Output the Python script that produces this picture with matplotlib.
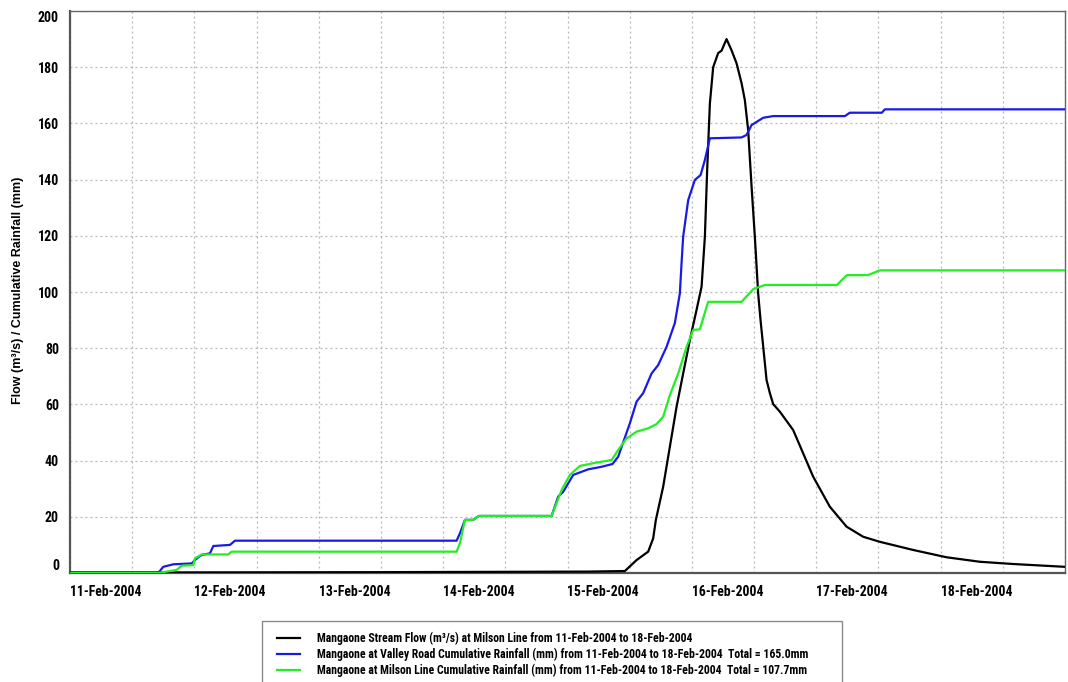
import numpy as np
import matplotlib
matplotlib.use("Agg")
import matplotlib.pyplot as plt
import matplotlib.dates as mdates
from matplotlib import font_manager
from matplotlib.font_manager import FontProperties
from matplotlib.lines import Line2D
from matplotlib.patches import Rectangle
from datetime import datetime

# ---------------- data (hours since 11-Feb-2004 00:00) ----------------
flow_hours = [0, 17.0, 60, 100, 107.07, 109.33, 111.57, 112.53, 113.05, 114.46, 115.76,
              117.05, 118.32, 119.61, 120.9, 121.87, 122.51, 122.95, 123.47, 124.11,
              125.07, 125.73, 126.69, 127.66, 128.62, 129.59, 130.22, 130.86, 131.52,
              132.15, 132.79, 133.25, 134.41, 135.05, 135.69, 136.98, 139.54, 141.47,
              143.4, 146.62, 149.84, 153.05, 156.27, 162.69, 169.13, 175.56, 181.98, 191.96]
flow_values = [0.2, 0.2, 0.3, 0.5, 0.7, 4.6, 7.6, 12.3, 18.9, 30.7, 45.0,
               59.2, 71.0, 82.9, 93.6, 101.9, 119.7, 143.4, 167.0, 180.0,
               185.0, 185.9, 190.0, 186.0, 181.4, 174.3, 168.3, 157.7, 137.5,
               119.7, 99.5, 90.0, 68.7, 64.0, 60.1, 57.4, 50.9, 42.6,
               34.3, 23.6, 16.5, 12.9, 11.1, 8.2, 5.6, 4.0, 3.2, 2.2]

valley_hours = [0, 17.03, 18.0, 19.93, 23.48, 24.12, 24.75, 25.41, 27.01, 27.65, 30.87,
                31.83, 74.6, 75.24, 76.21, 77.81, 78.46, 78.96, 92.93, 94.21, 95.17,
                97.1, 100.0, 102.58, 104.7, 105.78, 108.04, 109.33, 110.6, 112.22,
                113.5, 115.12, 116.72, 117.68, 118.0, 118.32, 119.29, 120.58, 121.68,
                122.51, 123.47, 129.59, 130.55, 131.52, 133.76, 135.69, 149.52, 150.48,
                156.66, 157.23, 191.96]
valley_values = [0, 0, 2.2, 3.1, 3.4, 4.6, 5.6, 6.4, 7.0, 9.6, 10.0,
                 11.5, 11.5, 14.1, 18.9, 18.9, 19.8, 20.3, 20.3, 27.2, 28.9,
                 34.9, 36.9, 37.8, 38.8, 41.4, 53.3, 61.0, 64.0, 71.0,
                 74.0, 80.5, 89.0, 99.5, 110.0, 119.7, 132.7, 139.9, 141.6,
                 147.0, 154.7, 155.0, 155.9, 159.4, 162.0, 162.6, 162.6, 163.8,
                 163.8, 165.0, 165.0]

milson_hours = [0, 17.03, 20.58, 21.55, 23.79, 24.12, 25.41, 30.54, 31.2, 74.6, 75.24,
                76.21, 77.81, 78.46, 78.96, 92.93, 94.86, 96.46, 98.39, 101.61, 104.51,
                105.78, 107.4, 109.33, 111.57, 113.19, 114.46, 115.76, 117.36, 118.98,
                120.25, 121.54, 123.14, 129.59, 131.83, 134.08, 147.98, 149.9, 153.96,
                156.27, 191.96]
milson_values = [0, 0, 1.1, 2.6, 2.8, 5.2, 6.6, 6.6, 7.6, 7.6, 10.6,
                 18.9, 18.9, 19.8, 20.3, 20.3, 29.5, 34.9, 38.1, 39.3, 40.2,
                 43.8, 47.9, 50.3, 51.5, 53.0, 55.6, 63.3, 71.0, 80.5,
                 86.5, 86.7, 96.5, 96.5, 101.0, 102.5, 102.5, 106.0, 106.0,
                 107.7, 107.7]

x_tick_labels = ["11-Feb-2004", "12-Feb-2004", "13-Feb-2004", "14-Feb-2004",
                 "15-Feb-2004", "16-Feb-2004", "17-Feb-2004", "18-Feb-2004"]
y_ticks = [0, 20, 40, 60, 80, 100, 120, 140, 160, 180, 200]

legend_labels = [
    "Mangaone Stream Flow (m\u00b3/s) at Milson Line from 11-Feb-2004 to 18-Feb-2004",
    "Mangaone at Valley Road Cumulative Rainfall (mm) from 11-Feb-2004 to 18-Feb-2004  Total = 165.0mm",
    "Mangaone at Milson Line Cumulative Rainfall (mm) from 11-Feb-2004 to 18-Feb-2004  Total = 107.7mm",
]

# ---------------- fonts ----------------
def find_narrow_bold():
    entries = font_manager.fontManager.ttflist
    prefs = ["Liberation Sans Narrow", "Arial Narrow", "Roboto Condensed",
             "Open Sans Condensed", "DejaVu Sans Condensed"]
    def is_bold(e):
        return e.weight in ("bold", 700, "700") or "Bold" in e.fname
    for p in prefs:
        for e in entries:
            if e.name == p and is_bold(e) and "Italic" not in e.fname and "Oblique" not in e.fname:
                return e.fname
    for e in entries:
        cond = ("Narrow" in e.fname or "Condensed" in e.fname
                or e.stretch in ("condensed", "semi-condensed"))
        if cond and is_bold(e) and "Italic" not in e.fname and "Oblique" not in e.fname \
                and "Extra" not in e.fname and "Ultra" not in e.fname:
            return e.fname
    return None

narrow_file = find_narrow_bold()
if narrow_file:
    base_fp = FontProperties(fname=narrow_file)
else:
    base_fp = FontProperties(family=["Liberation Sans", "DejaVu Sans"], weight="bold")

plt.rcParams["font.family"] = ["Liberation Sans", "DejaVu Sans"]

t0 = mdates.date2num(datetime(2004, 2, 11))
def to_num(h):
    return t0 + np.asarray(h, dtype=float) / 24.0

fig = plt.figure(figsize=(10.68, 6.82), dpi=100)
renderer = fig.canvas.get_renderer()

def fit_size(text, target_px, ref_size=10.0, max_size=None):
    fp = base_fp.copy()
    fp.set_size(ref_size)
    t = fig.text(0, 0, text, fontproperties=fp)
    w = t.get_window_extent(renderer).width
    t.remove()
    s = ref_size * target_px / w
    if max_size:
        s = min(s, max_size)
    return s

def fp_at(size):
    fp = base_fp.copy()
    fp.set_size(size)
    return fp

xtick_fp = fp_at(fit_size("11-Feb-2004", 72, max_size=11.5))
ytick_fp = fp_at(fit_size("200", 21, max_size=11.5))
legend_fp = fp_at(fit_size(legend_labels[1], 490, max_size=9.5))

ax = fig.add_axes([70 / 1068, 1 - 573 / 682, 995 / 1068, 562 / 682])

c_flow, c_valley, c_milson = "#000000", "#1a1ae6", "#22ee22"
ax.plot(to_num(flow_hours), flow_values, color=c_flow, lw=1.6, zorder=3)
ax.plot(to_num(valley_hours), valley_values, color=c_valley, lw=1.6, zorder=4)
ax.plot(to_num(milson_hours), milson_values, color=c_milson, lw=1.6, zorder=5)

ax.set_xlim(to_num(0), to_num(192))
ax.set_ylim(0, 200)

tick_pos = [mdates.date2num(datetime.strptime(s, "%d-%b-%Y")) for s in x_tick_labels]
ax.set_xticks(tick_pos)
ax.set_xticklabels(x_tick_labels, ha="left", fontproperties=xtick_fp)
ax.xaxis.set_minor_locator(mdates.HourLocator(byhour=[0, 12]))
ax.set_yticks(y_ticks)
ax.set_yticklabels([str(v) for v in y_ticks], fontproperties=ytick_fp)
ax.tick_params(axis="both", which="both", length=0)
ax.tick_params(axis="x", pad=9)
ax.tick_params(axis="y", pad=8)
ylabels = ax.get_yticklabels()
ylabels[0].set_verticalalignment("bottom")
ylabels[-1].set_verticalalignment("top")

ax.grid(True, which="both", axis="x", color="#b4b4b4", linestyle=(0, (1.5, 2.5)), lw=0.9)
ax.grid(True, which="major", axis="y", color="#b4b4b4", linestyle=(0, (1.5, 2.5)), lw=0.9)

for side in ["left", "bottom"]:
    ax.spines[side].set_color("#555555")
    ax.spines[side].set_linewidth(1.6)
for side in ["top", "right"]:
    ax.spines[side].set_color("#666666")
    ax.spines[side].set_linewidth(1.0)

fig.text(18 / 1068, 1 - 290 / 682, "Flow (m\u00b3/s) / Cumulative Rainfall (mm)",
         rotation=90, ha="center", va="center", fontsize=9, fontweight="bold",
         family=["Liberation Sans", "DejaVu Sans"])

# legend box
fig.add_artist(Rectangle((262 / 1068, -0.05), (842 - 262) / 1068, 0.05 + 1 - 621 / 682,
                         transform=fig.transFigure, facecolor="white",
                         edgecolor="#8a8a8a", lw=1.0))
handles = [Line2D([], [], color=c, lw=1.6) for c in (c_flow, c_valley, c_milson)]
fs_px = legend_fp.get_size_in_points() * 100 / 72
leg = fig.legend(handles, legend_labels, loc="upper left",
                 bbox_to_anchor=(277 / 1068, 1 - 632 / 682),
                 frameon=False, borderpad=0, borderaxespad=0,
                 handlelength=23 / fs_px, handletextpad=17 / fs_px,
                 labelspacing=max(0.0, (16.5 - 1.17 * fs_px) / fs_px), prop=legend_fp)

fig.savefig("out.png", dpi=100)
